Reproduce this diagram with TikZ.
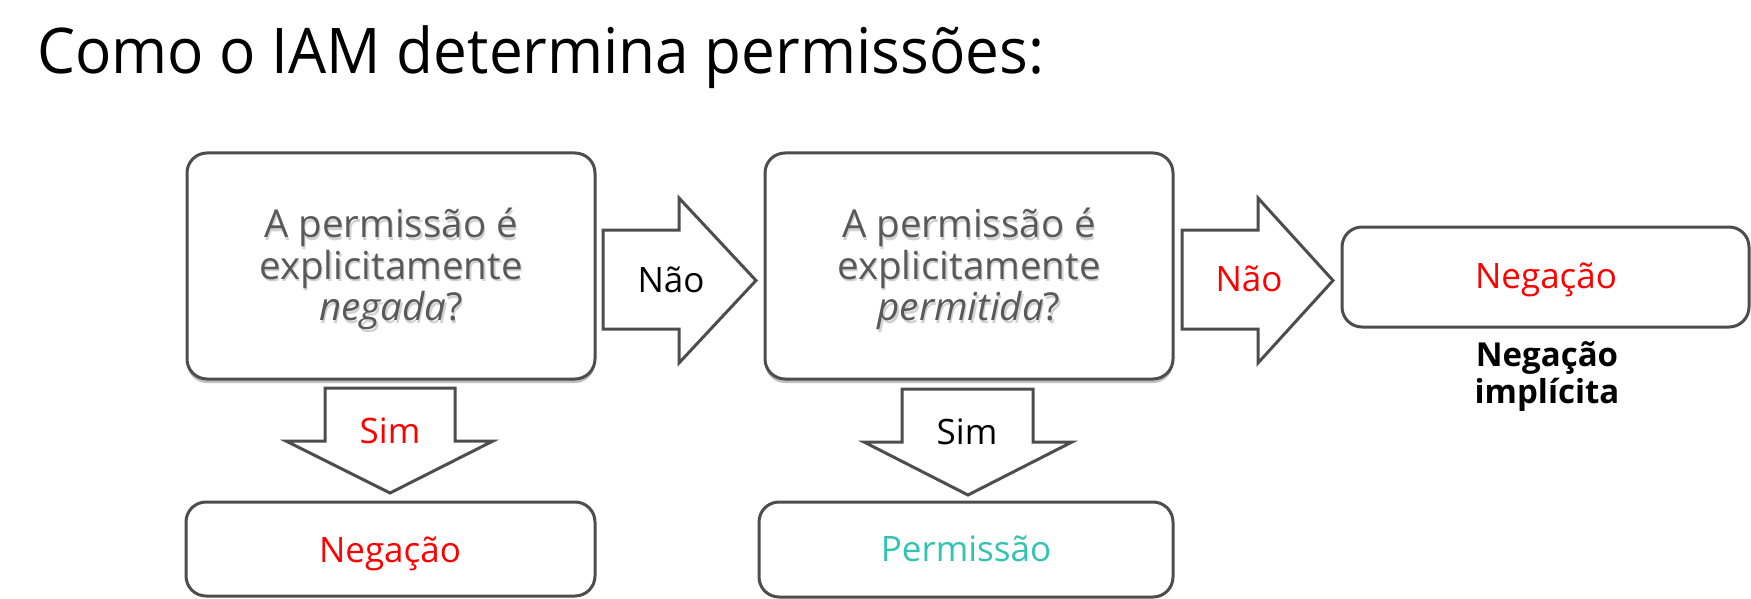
\documentclass[tikz,border=0pt]{standalone}
\usepackage{fontspec}
\setmainfont{Open Sans}
\newfontfamily\titlefont[FakeStretch=0.957]{Open Sans}
\usetikzlibrary{shadows}
\definecolor{edgegray}{HTML}{4D4D4D}
\definecolor{qtext}{HTML}{595959}
\definecolor{okteal}{HTML}{33C3B1}
\definecolor{nored}{HTML}{FF0000}
\begin{document}
\begin{tikzpicture}[x=1pt,y=-1pt,
  box/.style={draw=edgegray, line width=3pt, rounded corners=20pt, fill=white, inner sep=0pt},
  qbox/.style={box, drop shadow={shadow xshift=0pt, shadow yshift=-4pt, opacity=0.25, fill=black}},
  barrow/.style={draw=edgegray, line width=3pt, fill=white, line join=miter},
  qfont/.style={font=\fontsize{38.5}{41.5}\selectfont, text=qtext, align=center},
  lbl/.style={font=\fontsize{35}{42}\selectfont, anchor=base},
  shadowtxt/.style={qfont, text=black, opacity=0.18}]
\useasboundingbox (0,0) rectangle (1751,599);
% title
\node[anchor=base west, inner sep=0pt, font=\titlefont\fontsize{63}{70}\selectfont] (title) at (37,74) {Como o IAM determina permissões:};
% question boxes
\node[qbox, minimum width=408pt, minimum height=226pt] (q1) at (391,266) {};
\node[qbox, minimum width=408pt, minimum height=226pt] (q2) at (969,266) {};
\node[shadowtxt] at (392.5,271.5) {A permissão é\\explicitamente\\\textit{negada}?};
\node[qfont] (q1t) at (391,269) {A permissão é\\explicitamente\\\textit{negada}?};
\node[shadowtxt] at (970.5,271.5) {A permissão é\\explicitamente\\\textit{permitida}?};
\node[qfont] (q2t) at (969,269) {A permissão é\\explicitamente\\\textit{permitida}?};
% result boxes
\node[box, minimum width=407pt, minimum height=100pt] (r3) at (1545.5,277) {};
\node[box, minimum width=409pt, minimum height=94pt] (r1) at (390.5,549) {};
\node[box, minimum width=414pt, minimum height=95pt] (r2) at (966,549.5) {};
\node[lbl, text=nored] (r3t) at (1546,288) {Negação};
\node[lbl, text=nored] (r1t) at (390,562) {Negação};
\node[lbl, text=okteal] (r2t) at (966,561) {Permissão};
\node[anchor=base, font=\fontsize{33}{37}\selectfont\bfseries] (imp1) at (1547,366) {Negação};
\node[anchor=base, font=\fontsize{33}{37}\selectfont\bfseries] (imp2) at (1547,403) {implícita};
% block arrows
\draw[barrow] (603,230) -- (679,230) -- (679,198) -- (756,280.5) -- (679,363) -- (679,329) -- (603,329) -- cycle;
\draw[barrow] (1182,230) -- (1258,230) -- (1258,198) -- (1333,280.5) -- (1258,363) -- (1258,329) -- (1182,329) -- cycle;
\draw[barrow] (325,388) -- (455,388) -- (455,441) -- (493,441) -- (390,493) -- (286,441) -- (325,441) -- cycle;
\draw[barrow] (902,389) -- (1033,389) -- (1033,442) -- (1072,442) -- (968,495) -- (864,442) -- (902,442) -- cycle;
\node[lbl] (a1t) at (671,292) {Não};
\node[lbl, text=nored] (a2t) at (1249,291) {Não};
\node[lbl, text=nored] (d1t) at (390,443) {Sim};
\node[lbl] (d2t) at (967,444) {Sim};
\end{tikzpicture}
\end{document}
